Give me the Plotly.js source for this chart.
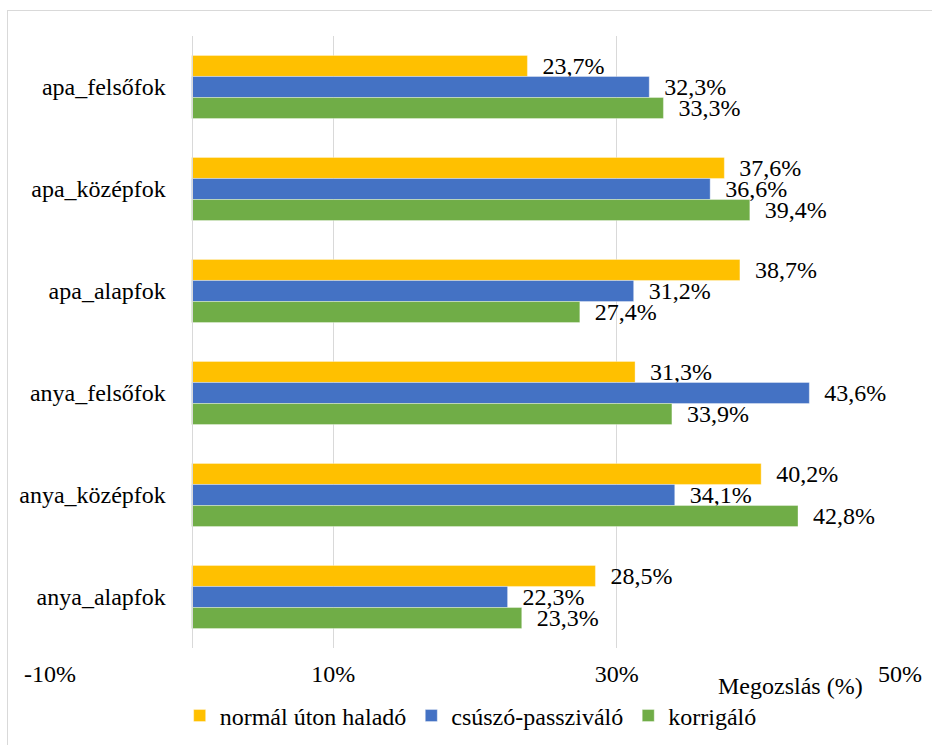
<!DOCTYPE html>
<html>
<head>
<meta charset="utf-8">
<script src="https://cdn.plot.ly/plotly-3.0.1.min.js"></script>
<style>
  html, body { margin: 0; padding: 0; overflow: hidden; background: #fff; }
  #wrap { position: relative; width: 932px; height: 745px; overflow: hidden; }
  #chart { width: 932px; height: 745px; }
  #frame { position: absolute; left: 7px; top: 10px; width: 960px; height: 800px;
           border: 1.5px solid #D9D9D9; pointer-events: none; }
</style>
</head>
<body>
<div id="wrap">
  <div id="chart"></div>
  <div id="frame"></div>
</div>
<script>
const categories = ['apa_felsőfok', 'apa_középfok', 'apa_alapfok', 'anya_felsőfok', 'anya_középfok', 'anya_alapfok'];
const seriesNames = ['normál úton haladó', 'csúszó-passziváló', 'korrigáló'];
const normalValues = [23.7, 37.6, 38.7, 31.3, 40.2, 28.5];
const csuszoValues = [32.3, 36.6, 31.2, 43.6, 34.1, 22.3];
const korrigaloValues = [33.3, 39.4, 27.4, 33.9, 42.8, 23.3];
const xTickValues = [-10, 10, 30, 50];
const xTickLabels = ['-10%', '10%', '30%', '50%'];
const axisTitle = 'Megozslás (%)';

const colors = ['#FFC000', '#4472C4', '#70AD47'];
const FONT = '"Liberation Serif", "Times New Roman", serif';
const fmt = v => '\u00A0\u00A0' + v.toFixed(1).replace('.', ',') + '%';

const allValues = [normalValues, csuszoValues, korrigaloValues];
const traces = allValues.map((vals, i) => ({
  type: 'bar',
  orientation: 'h',
  name: seriesNames[i],
  y: categories,
  x: vals,
  text: vals.map(fmt),
  textposition: 'outside',
  constraintext: 'none',
  cliponaxis: false,
  textfont: { family: FONT, size: 24, color: '#000' },
  marker: { color: colors[i], line: { color: 'rgba(255,255,255,0.6)', width: 0.6 } },
  hoverinfo: 'x+y'
}));

const layout = {
  width: 932,
  height: 745,
  margin: { l: 50, r: 32, t: 36, b: 97, autoexpand: false },
  paper_bgcolor: '#fff',
  plot_bgcolor: '#fff',
  barmode: 'group',
  bargap: 0.38,
  bargroupgap: 0,
  font: { family: FONT, size: 24, color: '#000' },
  showlegend: true,
  legend: {
    orientation: 'h',
    xref: 'container', yref: 'container',
    x: 0.505, xanchor: 'center',
    y: 0.039, yanchor: 'middle',
    font: { family: FONT, size: 24, color: '#000' },
    traceorder: 'normal',
    itemclick: false
  },
  xaxis: {
    range: [-10, 50],
    tickmode: 'array',
    tickvals: xTickValues,
    ticktext: xTickLabels,
    showgrid: true,
    gridcolor: '#D9D9D9',
    gridwidth: 1.5,
    zeroline: false,
    showline: false,
    ticks: '',
    ticklabelstandoff: 9,
    automargin: false,
    tickfont: { family: FONT, size: 24, color: '#000' },
    fixedrange: true
  },
  yaxis: {
    type: 'category',
    autorange: 'reversed',
    anchor: 'free',
    position: 1 / 6,
    showline: true,
    linecolor: '#D9D9D9',
    linewidth: 1.5,
    showgrid: false,
    zeroline: false,
    ticks: '',
    ticklabelstandoff: 21,
    automargin: false,
    tickfont: { family: FONT, size: 24, color: '#000' },
    fixedrange: true
  },
  annotations: [{
    text: axisTitle,
    xref: 'paper', yref: 'paper',
    x: 0.8706, y: -0.0621,
    xanchor: 'center', yanchor: 'middle',
    showarrow: false,
    font: { family: FONT, size: 24, color: '#000' }
  }]
};

Plotly.newPlot('chart', traces, layout, { displayModeBar: false, staticPlot: true });
</script>
</body>
</html>
